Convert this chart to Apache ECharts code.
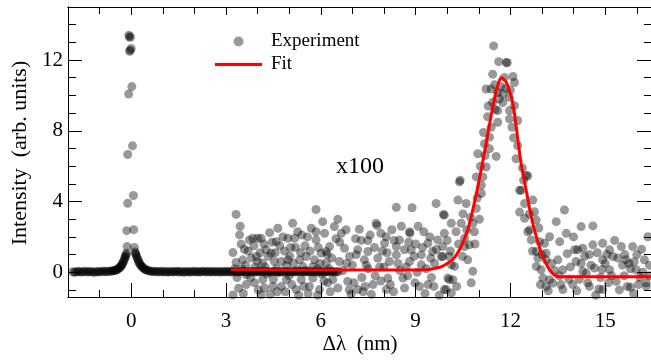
<!DOCTYPE html>
<html>
<head>
<meta charset="utf-8">
<script src="https://cdn.jsdelivr.net/npm/echarts@6/dist/echarts.min.js"></script>
<style>
html,body{margin:0;padding:0;background:#fff;}
#chart{width:651px;height:362px;}
</style>
</head>
<body>
<div id="chart"></div>
<script>
// ---- data ----
var xTicks = [0, 3, 6, 9, 12, 15];
var xMinorTicks = [-1, 1, 2, 4, 5, 7, 8, 10, 11, 13, 14, 16];
var yTicks = [0, 4, 8, 12];
var yMinorTicks = [-1, 1, 2, 3, 5, 6, 7, 9, 10, 11, 13, 14];

// unscaled spectrum (dense band with elastic peak at 0)
var mainPeak = [
  [-1.85,0.03],[-1.8,0.00],[-1.75,0.01],[-1.7,0.04],[-1.65,0.04],[-1.6,0.01],[-1.55,0.02],[-1.5,0.03],
  [-1.45,0.05],[-1.4,0.02],[-1.35,0.02],[-1.3,0.04],[-1.25,0.03],[-1.2,0.01],[-1.15,0.00],[-1.1,0.03],
  [-1.05,0.04],[-1.0,0.02],[-0.95,0.03],[-0.9,0.05],[-0.85,0.05],[-0.8,0.03],[-0.75,0.04],[-0.7,0.05],
  [-0.65,0.06],[-0.61,0.07],[-0.58,0.08],[-0.54,0.09],[-0.5,0.11],[-0.47,0.13],[-0.44,0.16],[-0.41,0.2],
  [-0.38,0.24],[-0.35,0.28],[-0.33,0.33],[-0.31,0.38],[-0.29,0.44],[-0.27,0.5],[-0.25,0.58],[-0.23,0.66],
  [-0.21,0.76],[-0.19,0.85],[-0.18,0.92],[-0.16,1.0],[-0.15,1.08],
  [-0.13,1.45],[-0.14,2.35],[-0.11,3.9],[-0.11,6.66],[-0.08,10.08],[-0.05,12.5],[-0.07,13.4],[-0.06,13.3],
  [-0.02,13.3],[0.0,12.65],[-0.03,12.55],[0.02,10.5],[0.04,7.15],[0.07,4.34],[0.08,2.41],[0.1,1.4],
  [0.12,1.15],[0.14,1.08],[0.15,1.0],[0.17,0.9],[0.19,0.8],[0.21,0.72],[0.23,0.63],[0.25,0.55],[0.27,0.48],
  [0.3,0.4],[0.32,0.35],[0.35,0.3],[0.38,0.25],[0.41,0.2],[0.44,0.16],[0.48,0.12],[0.52,0.1],
  [0.56,0.08],[0.6,0.06],[0.65,0.05],[0.7,0.03],[0.75,0.04],[0.8,0.05],[0.85,0.02],[0.9,0.03],
  [0.95,0.05],[1.0,0.02],[1.05,0.03],[1.1,0.04],[1.15,0.01],[1.2,0.02],[1.25,0.04],[1.3,0.03],
  [1.35,0.02],[1.4,0.04],[1.45,0.05],[1.5,0.01],[1.55,0.03],[1.6,0.04],[1.65,0.00],[1.7,0.02],
  [1.75,0.04],[1.8,0.03],[1.85,0.02],[1.9,0.01],[1.95,0.05],[2.0,0.03],[2.05,0.03],[2.1,0.04],
  [2.15,0.01],[2.2,0.02],[2.25,0.04],[2.3,0.05],[2.35,0.02],[2.4,0.03],[2.45,0.05],[2.5,0.01],
  [2.55,0.03],[2.6,0.04],[2.65,0.02],[2.7,0.03],[2.75,0.04],[2.8,0.02],[2.85,0.01],[2.9,0.04],
  [2.95,0.03],[3.0,0.02],[3.05,0.05],[3.1,0.03],[3.15,0.02],[3.2,0.01],[3.25,0.04],[3.3,0.03],
  [3.35,0.01],[3.4,0.02],[3.45,0.03],[3.5,0.04],[3.55,0.05],[3.6,0.02],[3.65,0.02],[3.7,0.03],
  [3.75,0.04],[3.8,0.01],[3.85,0.03],[3.9,0.04],[3.95,0.01],[4.0,0.03],[4.05,0.04],[4.1,0.02],
  [4.15,0.02],[4.2,0.04],[4.25,0.05],[4.3,0.01],[4.35,0.03],[4.4,0.02],[4.45,0.01],[4.5,0.04],
  [4.55,0.04],[4.6,0.03],[4.65,0.02],[4.7,0.01],[4.75,0.05],[4.8,0.02],[4.85,0.03],[4.9,0.04],
  [4.95,0.02],[5.0,0.03],[5.05,0.04],[5.1,0.02],[5.15,0.01],[5.2,0.04],[5.25,0.03],[5.3,0.02],
  [5.35,0.05],[5.4,0.03],[5.45,0.02],[5.5,0.01],[5.55,0.04],[5.6,0.02],[5.65,0.03],[5.7,0.04],
  [5.75,0.01],[5.8,0.03],[5.85,0.04],[5.9,0.02],[5.95,0.02],[6.0,0.03],[6.05,0.05],[6.1,0.01],
  [6.15,0.03],[6.2,0.04],[6.25,0.02],[6.3,0.03],[6.35,0.04],[6.4,0.02],[6.45,0.01],[6.5,0.03],[6.55,0.03]
];

// x100 magnified spectrum (noisy)
var x100Points = [
  [3.22,1.11],[3.22,-1.28],[3.32,3.27],[3.32,0.55],[3.43,2.11],[3.48,1.59],[3.53,0.70],[3.64,-0.14],[3.64,-0.70],
  [3.74,1.83],[3.80,0.80],[3.85,1.92],[3.96,0.89],[4.00,1.92],[4.11,1.92],[4.11,-1.27],[4.16,0.52],[4.16,-0.42],
  [4.22,-0.89],[4.27,1.27],[4.38,2.24],[4.43,1.08],[4.48,-0.80],[4.53,0.61],[4.59,1.73],[4.64,2.49],[4.75,0.61],
  [4.75,-0.80],[4.91,-0.42],[4.96,1.92],[4.96,0.70],[5.11,2.77],[5.17,1.92],[5.22,-0.98],[5.27,2.29],[5.33,0.70],
  [5.38,-0.42],[5.43,0.33],[5.54,0.89],[5.64,-0.80],[5.70,2.49],[5.75,0.33],[5.75,-0.33],[5.85,3.55],[5.85,2.29],
  [5.85,1.83],[5.96,-0.98],[6.01,1.08],[6.06,2.86],[6.17,1.17],[6.17,0.52],
  [3.35,-0.3],[3.5,0.2],[3.9,-0.6],[4.05,0.1],[4.3,-0.1],[4.6,0.2],[4.85,1.2],[5.0,-0.2],[5.05,1.4],[5.5,1.5],
  [5.6,-1.2],[5.9,0.2],[6.1,-0.5],[4.4,-1.25],[3.7,1.2],[4.7,1.5],[5.3,-1.3],[3.45,2.6],[4.2,1.6],[6.3,-1.1],
  [3.28,0.2],[3.4,-0.9],[3.58,1.3],[3.62,0.4],[3.78,-0.3],[3.88,1.5],[3.92,0.3],[4.02,-1.0],[4.08,1.1],[4.24,0.3],
  [4.34,0.9],[4.46,1.7],[4.5,-0.4],[4.56,1.1],[4.68,0.0],[4.8,2.0],[4.88,-1.1],[4.92,0.4],[5.02,0.9],[5.08,-0.7],
  [5.14,0.5],[5.2,1.4],[5.24,0.1],[5.36,1.1],[5.4,2.1],[5.46,-0.8],[5.52,0.1],[5.58,2.0],[5.66,1.2],[5.8,0.7],
  [5.92,1.4],[5.98,0.5],[6.04,-0.1],[6.12,2.2],[6.22,-0.6],[6.26,0.2],[3.55,-1.2],[4.62,-1.1],[5.9,-1.3],[4.0,0.6],
  [6.20,1.0],[6.28,1.45],[6.38,-0.42],[6.43,2.58],[6.54,2.99],[6.54,-0.89],[6.59,0.61],[6.65,2.20],[6.75,1.36],
  [6.85,-0.52],[6.91,0.89],[6.96,-1.25],[7.17,1.27],[7.17,-0.98],[7.22,2.43],[7.38,0.70],[7.49,1.79],[7.49,1.17],
  [7.6,-1.25],[7.65,-0.70],[7.75,2.77],[7.78,2.65],[7.80,0.80],[8.02,1.64],[8.07,2.01],[8.07,-0.98],[8.12,-0.33],
  [8.17,0.61],[8.39,3.67],[8.39,1.45],[8.39,0.98],[8.49,1.83],[8.60,-0.33],[8.65,1.27],[8.65,-0.89],[8.81,2.29],
  [8.82,2.2],[8.81,0.61],[8.86,1.27],[8.89,3.65],[9.12,-0.80],[9.18,0.98],[9.18,0.42],[9.26,2.29],[9.3,-1.2],
  [9.39,1.64],[9.39,-0.70],[9.54,1.17],[9.65,3.89],[9.70,1.83],[9.86,0.89],[9.88,3.27],[9.91,2.20],[9.91,-0.98],
  [10.07,-0.42],[10.13,2.77],[10.13,0.42],
  [6.7,0.1],[7.0,0.4],[7.1,1.9],[7.3,-0.3],[7.5,0.2],[7.9,-0.5],[8.0,0.3],[8.3,-1.1],[8.5,0.1],[8.75,-0.2],
  [9.0,1.6],[9.05,0.0],[9.5,-0.3],[9.6,0.5],[7.95,1.2],[6.6,1.7],[7.4,-0.8],[8.25,2.4],[9.75,-1.3],[6.9,-1.0],
  [6.35,0.8],[6.48,1.9],[6.8,2.4],[6.82,0.5],[7.05,-0.6],[7.12,1.0],[7.28,1.8],[7.34,-1.1],[7.44,0.4],[7.56,2.1],
  [7.7,1.4],[7.72,-0.2],[7.86,0.3],[7.9,2.2],[8.1,1.1],[8.2,-0.7],[8.32,1.8],[8.44,0.5],[8.55,2.6],[8.7,0.3],
  [8.78,1.7],[8.95,0.9],[8.98,-0.6],[9.08,2.6],[9.22,1.4],[9.34,0.2],[9.45,2.0],[9.48,0.8],[9.58,-0.8],[9.66,1.3],
  [9.81,0.89],[9.86,1.45],[9.91,3.23],[9.97,-0.98],[10.02,-0.33],[10.07,0.89],[10.13,-1.17],[10.18,-0.42],
  [10.23,0.33],[10.28,2.29],[10.34,4.08],[10.39,5.11],[10.41,5.20],[10.44,2.77],[10.55,1.92],[10.55,1.45],
  [10.60,3.89],[10.65,0.70],[10.70,1.55],[10.81,2.77],[10.81,0.05],[10.86,2.29],[10.92,3.61],[10.92,5.39],
  [10.97,6.70],[11.08,4.92],[11.08,4.45],[11.13,5.39],
  [10.0,1.8],[10.1,1.2],[10.3,-0.8],[10.36,1.6],[10.48,0.9],[10.5,3.3],[10.62,2.4],[10.74,3.1],[10.76,-0.6],
  [10.88,1.6],[10.95,4.2],[11.02,3.0],[11.05,6.0],[11.15,7.9],[11.2,6.6],[11.28,8.8],[11.3,9.4],
  [11.18,7.27],[11.23,5.95],[11.23,10.36],[11.34,7.64],[11.34,6.99],[11.39,8.20],[11.39,10.36],[11.44,11.20],
  [11.44,9.61],[11.47,12.80],[11.55,6.55],[11.60,10.17],[11.60,9.14],[11.60,8.48],[11.63,11.91],[11.65,9.80],
  [11.76,10.08],[11.76,9.6],[11.81,11.01],[11.87,11.86],[11.9,11.85],[11.97,9.89],[11.97,9.14],[11.97,8.67],
  [12.08,11.07],[12.10,7.60],[12.13,10.73],[12.13,9.42],[12.18,6.42],[12.23,8.58],[12.23,7.17],
  [11.5,10.6],[11.7,10.5],[11.85,10.4],[12.0,10.3],[12.05,8.2],[11.52,9.2],
  [12.29,4.64],[12.29,3.4],[12.34,4.64],[12.42,5.2],[12.45,3.89],[12.45,3.05],[12.50,5.48],
  [12.55,5.44],[12.55,2.29],[12.61,2.39],[12.66,1.83],[12.71,4.08],[12.76,3.42],[12.82,2.95],[12.82,1.17],
  [12.82,0.33],[12.87,0.80],[12.92,1.73],[12.97,0.14],[13.03,-0.33],[13.08,1.64],[13.13,0.70],[13.13,-0.80],
  [13.13,1.08],[12.38,5.9],[12.6,3.3],[12.7,1.2],[12.9,2.5],[13.0,1.0],[12.95,-0.7],
  [13.2,-1.05],[13.24,2.01],[13.24,-0.42],[13.34,-0.61],[13.45,2.86],[13.50,0.70],[13.56,1.73],[13.6,-0.7],
  [13.66,0.14],[13.66,-0.98],[13.71,3.52],[13.77,2.2],[13.8,1.05],[13.97,-0.70],[14.03,1.27],[14.08,0.61],
  [14.1,-1.05],[14.13,1.27],[14.24,2.58],[14.24,0.5],[14.29,1.36],[14.29,0.05],[14.40,-0.05],[14.45,-0.6],
  [14.50,-0.80],[14.61,2.62],[14.61,1.55],[14.66,0.24],[14.8,-0.95],[14.9,0.15],[14.92,1.64],[14.92,0.70],
  [14.92,-0.98],[15.1,-0.6],[15.14,1.27],[15.14,0.14],[15.24,0.89],[15.35,-0.52],[15.51,1.45],[15.55,0.4],
  [15.6,-0.2],[15.66,0.70],[15.7,-0.8],[15.8,0.2],[15.8,-0.85],[15.87,1.45],[15.98,0.14],[16.1,-0.3],
  [16.19,0.0],[16.24,0.70],[16.3,-0.6],[16.35,2.01],[16.3,-0.8],
  [13.9,0.3],[14.5,1.0],[15.0,0.5],[15.3,1.8],[15.9,-1.2],[16.0,1.0],[14.7,-1.3],[13.4,0.1],[16.4,0.4],
  [13.3,0.5],[13.55,-0.2],[13.85,-0.4],[14.0,2.0],[14.18,-0.4],[14.35,0.9],[14.55,0.4],[14.75,1.1],[14.85,-0.3],
  [15.05,1.0],[15.2,-0.2],[15.4,0.8],[15.45,-1.0],[15.62,1.0],[15.75,0.5],[15.92,0.6],[16.05,-0.7],[16.15,1.3],[16.4,-0.2]
];

// fit curve
var fitCurve = [
  [3.16,0.14],[5,0.13],[7,0.12],[9,0.13],[9.44,0.16],[9.7,0.25],[9.86,0.35],[10.0,0.5],[10.18,0.72],
  [10.3,1.0],[10.44,1.45],[10.55,1.9],[10.65,2.39],[10.81,3.52],[10.97,4.83],[11.13,6.3],[11.28,7.75],
  [11.39,8.85],[11.5,9.85],[11.6,10.55],[11.71,11.0],[11.83,10.85],[11.92,10.55],[12.08,9.52],[12.2,8.01],
  [12.34,6.14],[12.5,4.64],[12.66,3.14],[12.82,2.01],[13.03,0.89],[13.24,0.14],[13.5,-0.24],[14.0,-0.26],
  [16.45,-0.26]
];

var SERIF = "'Liberation Serif','Times New Roman',serif";
var X_MIN = -2, X_MAX = 16.45, Y_MIN = -1.4, Y_MAX = 15;

function xAx(pos, vals, len, labels) {
  return {
    type: 'value', position: pos, min: X_MIN, max: X_MAX,
    axisLine: {show: true, onZero: false, lineStyle: {color: '#000', width: 1}},
    axisTick: {show: true, inside: true, length: len, customValues: vals, lineStyle: {color: '#000', width: 1}},
    axisLabel: labels ? {show: true, customValues: vals, color: '#000', fontFamily: SERIF, fontSize: 21, margin: 14} : {show: false},
    splitLine: {show: false}
  };
}
function yAx(pos, vals, len, labels) {
  return {
    type: 'value', position: pos, min: Y_MIN, max: Y_MAX,
    axisLine: {show: true, onZero: false, lineStyle: {color: '#000', width: 1}},
    axisTick: {show: true, inside: true, length: len, customValues: vals, lineStyle: {color: '#000', width: 1}},
    axisLabel: labels ? {show: true, customValues: vals, color: '#000', fontFamily: SERIF, fontSize: 21, margin: 5} : {show: false},
    splitLine: {show: false}
  };
}

var chart = echarts.init(document.getElementById('chart'), null, {renderer: 'canvas'});
chart.setOption({
  animation: false,
  backgroundColor: '#fff',
  grid: {left: 68, right: 0, top: 7, bottom: 65, containLabel: false},
  xAxis: [
    xAx('bottom', xTicks, 14, true),
    xAx('bottom', xMinorTicks, 7, false),
    xAx('top', xTicks, 8, false),
    xAx('top', xMinorTicks, 7, false)
  ],
  yAxis: [
    yAx('left', yTicks, 14, true),
    yAx('left', yMinorTicks, 8, false),
    yAx('right', yTicks, 14, false),
    yAx('right', yMinorTicks, 7, false)
  ],
  legend: {
    orient: 'vertical', left: 215, top: 32, padding: 0, itemWidth: 47, itemHeight: 10, itemGap: 4,
    textStyle: {fontFamily: SERIF, fontSize: 19, color: '#000', padding: [0, 0, 0, 4]},
    data: [
      {name: 'Experiment', icon: 'circle'},
      {name: 'Fit', icon: 'path://M0,0 L47,0 L47,3 L0,3 Z', itemStyle: {color: '#ff0000'}}
    ]
  },
  graphic: [
    {type: 'text', left: 336, top: 155, style: {text: 'x100', font: "24px " + SERIF, fill: '#000'}},
    {type: 'text', x: 360, y: 344, style: {text: 'Δλ  (nm)', font: "21px " + SERIF, fill: '#000', align: 'center', verticalAlign: 'middle'}},
    {type: 'text', x: 20, y: 153, rotation: Math.PI / 2, style: {text: 'Intensity  (arb. units)', font: "22px " + SERIF, fill: '#000', align: 'center', verticalAlign: 'middle'}}
  ],
  series: [
    {
      name: 'Experiment', type: 'scatter', symbol: 'circle', symbolSize: 9,
      itemStyle: {color: 'rgba(0,0,0,0.5)'},
      data: mainPeak.concat(x100Points), z: 2
    },
    {
      name: 'Fit', type: 'line', showSymbol: false, symbol: 'none', smooth: 0.3,
      lineStyle: {color: '#ff0000', width: 3}, itemStyle: {color: '#ff0000'},
      data: fitCurve, z: 3
    }
  ]
});
</script>
</body>
</html>
